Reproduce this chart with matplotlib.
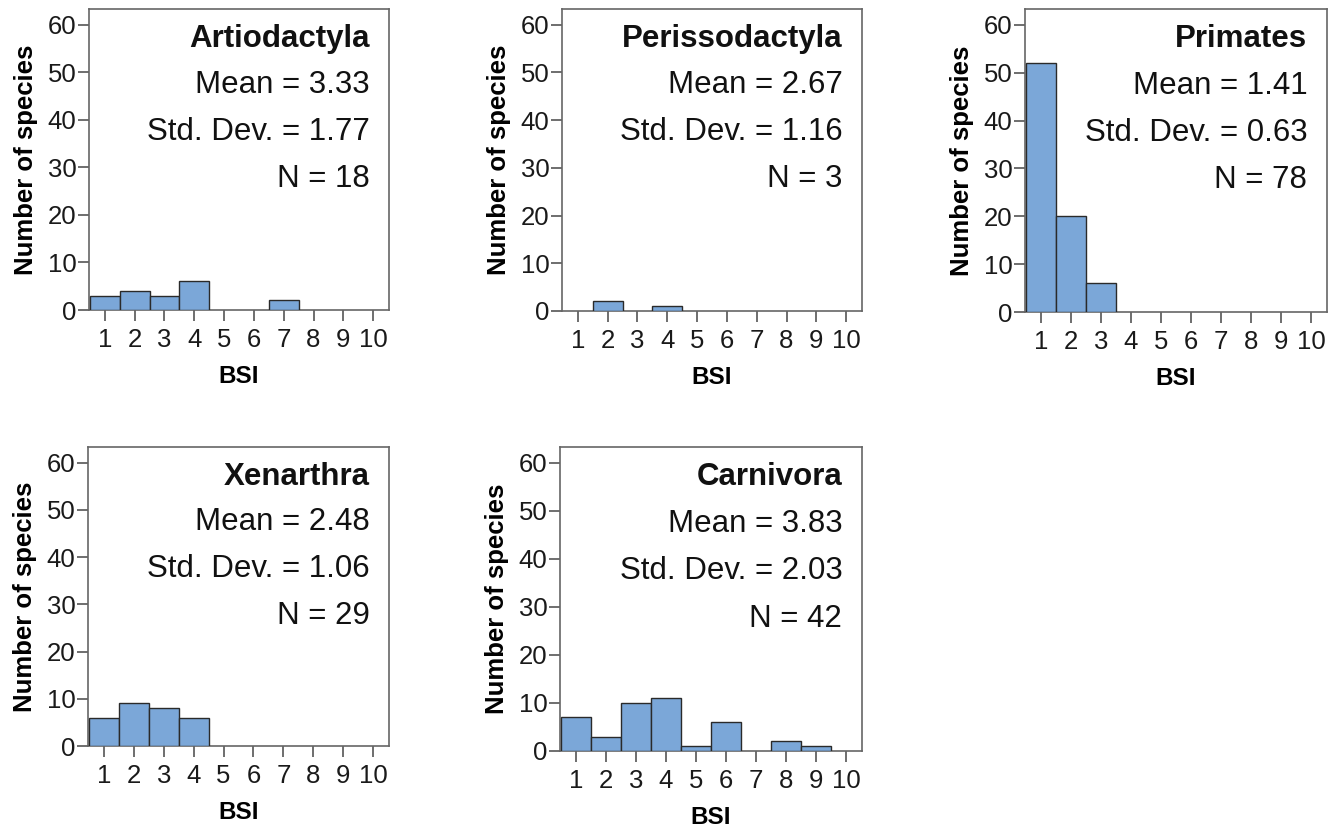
import numpy as np
import matplotlib
matplotlib.use("Agg")
import matplotlib.pyplot as plt

plt.rcParams['font.family'] = ['Liberation Sans', 'DejaVu Sans']

# BSI bins and counts per order
bsi = [1, 2, 3, 4, 5, 6, 7, 8, 9, 10]
artiodactyla = [3, 4, 3, 6, 0, 0, 2, 0, 0, 0]
perissodactyla = [0, 2, 0, 1, 0, 0, 0, 0, 0, 0]
primates = [52, 20, 6, 0, 0, 0, 0, 0, 0, 0]
xenarthra = [6, 9, 8, 6, 0, 0, 0, 0, 0, 0]
carnivora = [7, 3, 10, 11, 1, 6, 0, 2, 1, 0]

names = ["Artiodactyla", "Perissodactyla", "Primates", "Xenarthra", "Carnivora"]
means = ["3.33", "2.67", "1.41", "2.48", "3.83"]
stds = ["1.77", "1.16", "0.63", "1.06", "2.03"]
ns = ["18", "3", "78", "29", "42"]
counts = [artiodactyla, perissodactyla, primates, xenarthra, carnivora]

W, H = 1334, 827
# panel boxes in pixels: left, top, right, bottom
boxes = [(89, 9, 389, 310), (562, 9, 862, 311), (1025, 9, 1327, 312),
         (88, 447, 389, 746), (560, 447, 862, 751)]

fig = plt.figure(figsize=(W / 100, H / 100), dpi=100)

for i in range(5):
    l, t, r, b = boxes[i]
    ax = fig.add_axes([l / W, 1 - b / H, (r - l) / W, (b - t) / H])
    x = [v for v, c in zip(bsi, counts[i]) if c > 0]
    y = [c for c in counts[i] if c > 0]
    ax.bar(x, y, width=1.0, color='#7ba7d8', edgecolor='#2a2a2a', linewidth=1.0, zorder=3)
    ax.set_xlim(0.47, 10.53)
    ax.set_ylim(0, 63.3)
    ax.set_xticks(bsi)
    ax.set_yticks([0, 10, 20, 30, 40, 50, 60])
    for s in ax.spines.values():
        s.set_color('#666666')
        s.set_linewidth(1.2)
    ax.tick_params(axis='both', colors='#555555', labelcolor='#1a1a1a', labelsize=18.5,
                   length=8, width=1.2)
    ax.tick_params(axis='x', pad=5)
    ax.tick_params(axis='y', pad=1)
    ax.set_xlabel("BSI", fontsize=17.5, fontweight='bold', labelpad=9)
    ax.set_ylabel("Number of species", fontsize=18.5, fontweight='bold', labelpad=7)

    tx = 0.935
    ax.text(tx, 0.874, names[i], transform=ax.transAxes, ha='right', va='baseline',
            fontsize=22.5, fontweight='bold', color='#111111')
    ax.text(tx, 0.721, "Mean = " + means[i], transform=ax.transAxes, ha='right',
            va='baseline', fontsize=22.5, color='#111111')
    ax.text(tx, 0.565, "Std. Dev. = " + stds[i], transform=ax.transAxes, ha='right',
            va='baseline', fontsize=22.5, color='#111111')
    ax.text(tx, 0.409, "N = " + ns[i], transform=ax.transAxes, ha='right',
            va='baseline', fontsize=22.5, color='#111111')

plt.savefig("out.png", dpi=100)
